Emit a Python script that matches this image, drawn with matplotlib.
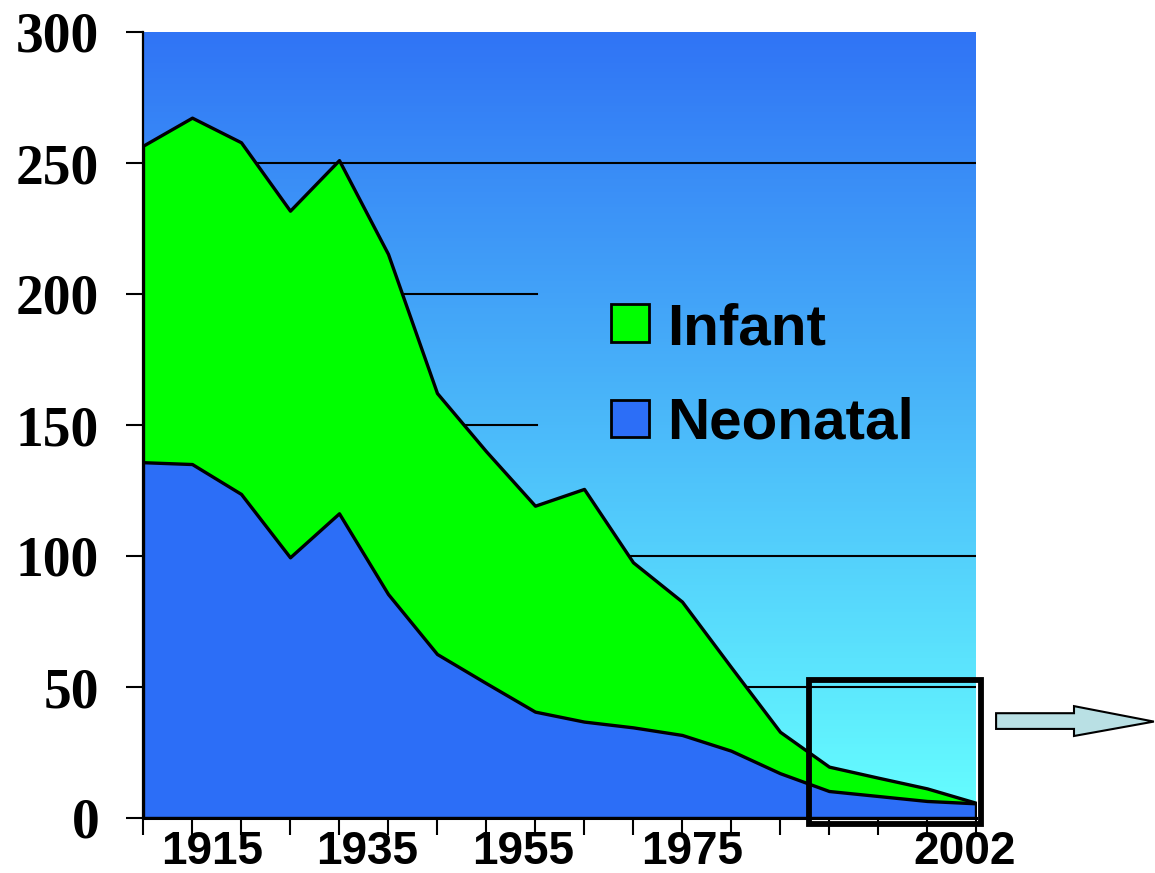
import numpy as np
from matplotlib import pyplot as plt
from matplotlib.patches import Rectangle, Polygon

# one point every 5 years, last one is 2002
infant = [256.6, 267.3, 257.9, 231.8, 251.1, 215.3, 162.2, 140.0, 119.2, 125.6,
          97.6, 82.6, 57.6, 32.9, 19.6, 15.4, 11.3, 5.8]
neonatal = [135.8, 135.1, 123.7, 99.5, 116.3, 85.5, 62.6, 51.5, 40.6, 36.8,
            34.6, 31.7, 25.7, 17.1, 10.3, 8.4, 6.5, 5.6]
year_labels = ['1915', '1935', '1955', '1975', '2002']
label_pos = [1.42, 4.58, 7.75, 11.2, 16.76]

blue = '#2C6EF7'
green = '#00FF00'

fig = plt.figure(figsize=(11.55, 8.73), dpi=100)
ax = fig.add_axes([143/1155, 55/873, 833/1155, 786/873])

x = np.arange(len(infant))
ax.set_xlim(0, len(infant) - 1)
ax.set_ylim(0, 300)

# gradient background
top = np.array([48, 116, 245]) / 255.
bot = np.array([102, 255, 255]) / 255.
t = np.linspace(0, 1, 256)[:, None, None]
grad = top * (1 - t) + bot * t
ax.imshow(grad, extent=[0, 17, 0, 300], aspect='auto', origin='upper', zorder=0)

# gridlines (partly hidden behind the legend box in the original)
for v, xmax in [(250, 1), (200, 0.473), (150, 0.473), (100, 1), (50, 1)]:
    ax.axhline(v, xmin=0, xmax=xmax, color='black', lw=1.5, zorder=1)

ax.fill_between(x, 0, infant, facecolor=green, edgecolor='black', lw=2.4, zorder=2)
ax.fill_between(x, 0, neonatal, facecolor=blue, edgecolor='black', lw=2.4, zorder=3)

# legend drawn by hand
ax.add_patch(Rectangle((9.55, 181.8), 0.78, 14.4, facecolor=green, edgecolor='black', lw=2, zorder=4))
ax.add_patch(Rectangle((9.55, 145.3), 0.78, 14.2, facecolor=blue, edgecolor='black', lw=2, zorder=4))
ax.text(10.70, 180.9, 'Infant', fontsize=42, fontweight='bold', family='Liberation Sans',
        va='baseline', ha='left', zorder=5)
ax.text(10.70, 144.7, 'Neonatal', fontsize=42, fontweight='bold', family='Liberation Sans',
        va='baseline', ha='left', zorder=5)

# highlight box and arrow
ax.add_patch(Rectangle((13.6, -2.3), 3.5, 55.1, fill=False, edgecolor='black', lw=4.2,
                       clip_on=False, zorder=6))
arrow = [(17.41, 40.0), (19.0, 40.0), (19.0, 42.7), (20.63, 36.8),
         (19.0, 31.3), (19.0, 34.0), (17.41, 34.0)]
ax.add_patch(Polygon(arrow, closed=True, facecolor='#B9E0E4', edgecolor='black', lw=1.5,
                     clip_on=False, zorder=6))

ax.spines['top'].set_visible(False)
ax.spines['right'].set_visible(False)
ax.spines['left'].set_linewidth(1.6)
ax.spines['bottom'].set_linewidth(2.2)
ax.spines['left'].set_zorder(7)
ax.spines['bottom'].set_zorder(7)

ax.set_yticks(range(0, 301, 50))
ax.set_yticklabels([str(v) for v in range(0, 301, 50)], fontsize=40, fontweight='bold',
                   family='Liberation Serif')
ax.tick_params(axis='y', direction='out', length=12.5, width=1.5, pad=19)

ax.set_xticks(x)
ax.set_xticklabels([])
ax.tick_params(axis='x', direction='out', length=12.5, width=1.5)

for lab, pos in zip(year_labels, label_pos):
    ax.text(pos, -0.0155, lab, transform=ax.get_xaxis_transform(), fontsize=33,
            fontweight='bold', family='Liberation Sans', ha='center', va='top')

fig.savefig('out.png', dpi=100)
